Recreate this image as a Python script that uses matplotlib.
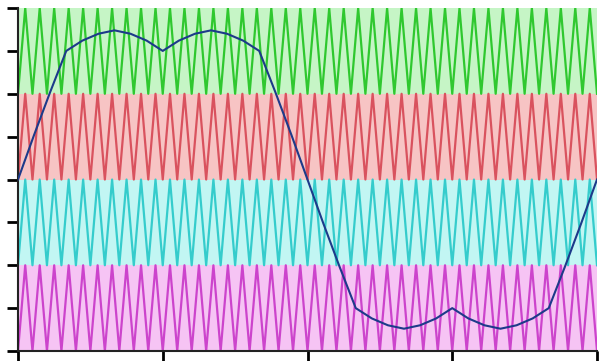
import numpy as np
import matplotlib
matplotlib.use("Agg")
import matplotlib.pyplot as plt

# ---- data ----
period_s = 0.02                     # one fundamental period on the x axis
carrier_periods = 40                # triangle carrier periods across the axis
band_lower = [0.5, 0.0, -0.5, -1.0]  # lower edge of each level-shifted carrier
band_height = 0.5
band_line_colors = ["#2fc82f", "#d9525e", "#35cccc", "#cc44cc"]
band_fill_colors = ["#c6f5c6", "#f7c4c4", "#c2f6f3", "#f6c4f4"]

# modulating (reference) wave, sampled every 10 degrees
mod_angle_deg = [0, 10, 20, 30, 40, 50, 60, 70, 80, 90, 100, 110, 120, 130, 140, 150, 160, 170,
                 180, 190, 200, 210, 220, 230, 240, 250, 260, 270, 280, 290, 300, 310, 320, 330,
                 340, 350, 360]
mod_value = [0.0, 0.26, 0.51, 0.75, 0.81, 0.85, 0.87, 0.85, 0.81, 0.75, 0.81, 0.85, 0.87, 0.85,
             0.81, 0.75, 0.51, 0.26, 0.0, -0.26, -0.51, -0.75, -0.81, -0.85, -0.87, -0.85,
             -0.81, -0.75, -0.81, -0.85, -0.87, -0.85, -0.81, -0.75, -0.51, -0.26, 0.0]

x_ticks = [0, 0.005, 0.01, 0.015, 0.02]
y_ticks = [-1, -0.75, -0.5, -0.25, 0, 0.25, 0.5, 0.75, 1]

fig = plt.figure(figsize=(6.0, 3.61), dpi=100)
ax = fig.add_axes([0.030, 0.0277, 0.965, 0.950])

# carriers
n_vert = 2 * carrier_periods + 1
t_vert = np.linspace(0, period_s, n_vert)
for low, lc, fc in zip(band_lower, band_line_colors, band_fill_colors):
    ax.axhspan(low, low + band_height, color=fc, lw=0, zorder=0)
    vals = np.where(np.arange(n_vert) % 2 == 0, low, low + band_height)
    ax.plot(t_vert, vals, color=lc, lw=1.6, zorder=2)

# modulating wave
t_mod = np.array(mod_angle_deg) / 360.0 * period_s
ax.plot(t_mod, mod_value, color="#1d3a8a", lw=1.5, zorder=3)

ax.set_xlim(0, period_s)
ax.set_ylim(-1, 1)
ax.set_xticks(x_ticks)
ax.set_yticks(y_ticks)
ax.tick_params(direction="out", length=8, width=2, color="black",
               labelbottom=False, labelleft=False)
for s in ["top", "right"]:
    ax.spines[s].set_visible(False)
for s in ["left", "bottom"]:
    ax.spines[s].set_linewidth(1.5)
    ax.spines[s].set_color("#222222")

fig.savefig("out.png", dpi=100)
